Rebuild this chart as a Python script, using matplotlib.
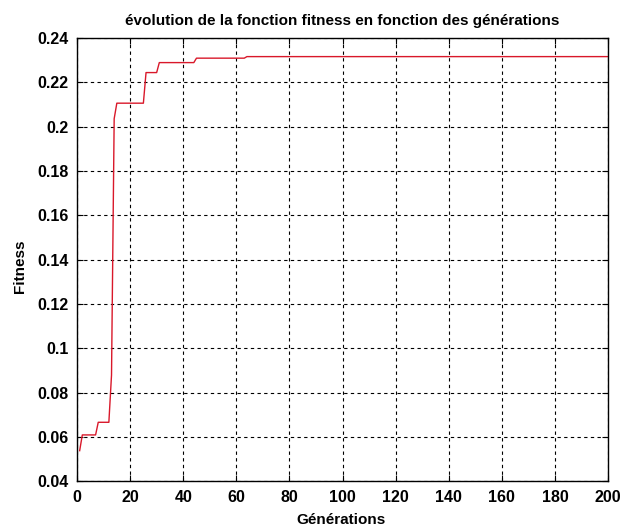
import matplotlib
matplotlib.use('Agg')
import matplotlib.pyplot as plt

# best fitness recorded at the generations where it changes (plateau ends included)
generations = [1, 2, 7, 8, 12, 13, 14, 15, 25, 26, 30, 31, 44, 45, 63, 64, 200]
fitness = [0.0539, 0.0610, 0.0610, 0.0667, 0.0667, 0.0880, 0.2036, 0.2106,
           0.2106, 0.2244, 0.2244, 0.2289, 0.2289, 0.2309, 0.2309, 0.2316, 0.2316]

xticks = [0, 20, 40, 60, 80, 100, 120, 140, 160, 180, 200]
yticks = [0.04, 0.06, 0.08, 0.1, 0.12, 0.14, 0.16, 0.18, 0.2, 0.22, 0.24]
ytick_labels = ['0.04', '0.06', '0.08', '0.1', '0.12', '0.14', '0.16', '0.18', '0.2', '0.22', '0.24']

plt.rcParams['font.family'] = ['Liberation Sans', 'DejaVu Sans']
plt.rcParams['font.weight'] = 'bold'

fig = plt.figure(figsize=(6.22, 5.29), dpi=100)
ax = fig.add_axes([0.1238, 0.0898, 0.8537, 0.8384])

ax.plot(generations, fitness, color='#d9182a', linewidth=1.0)

ax.set_xlim(0, 200)
ax.set_ylim(0.04, 0.24)
ax.set_xticks(xticks)
ax.set_yticks(yticks)
ax.set_yticklabels(ytick_labels)
ax.tick_params(axis='both', which='both', direction='in', top=True, right=True,
               length=4, width=0.8, labelsize=11.5, pad=6)
for lab in ax.get_xticklabels() + ax.get_yticklabels():
    lab.set_fontweight('bold')

ax.grid(True, color='black', linestyle=(0, (3, 3)), linewidth=0.8)
for sp in ax.spines.values():
    sp.set_linewidth(1.0)

ax.set_title('évolution de la fonction fitness en fonction des générations',
             fontsize=11, fontweight='bold', pad=9)
ax.set_xlabel('Générations', fontsize=11, fontweight='bold')
ax.set_ylabel('Fitness', fontsize=11, fontweight='bold')
ax.xaxis.set_label_coords(0.497, -0.071)
ax.yaxis.set_label_coords(-0.095, 0.486)

fig.savefig('out.png', dpi=100, facecolor='white')
